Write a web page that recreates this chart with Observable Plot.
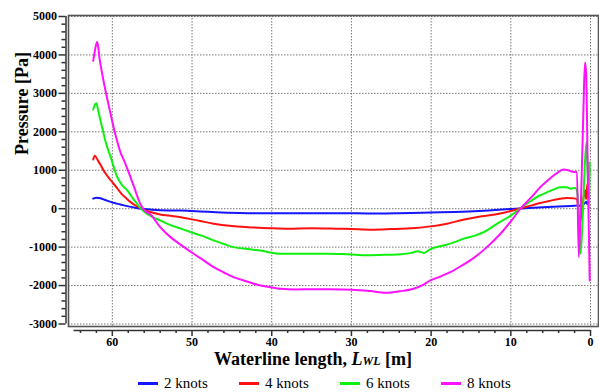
<!DOCTYPE html>
<html>
<head>
<meta charset="utf-8">
<script src="https://cdn.jsdelivr.net/npm/d3@7"></script>
<script src="https://cdn.jsdelivr.net/npm/@observablehq/plot@0.6"></script>
<style>
  body { margin: 0; background: #fff; }
  #wrap { position: relative; width: 599px; height: 392px; overflow: hidden; background: #fff; }
  #xt { position: absolute; left: 313px; top: 351px; transform: translateX(-50%); white-space: nowrap;
        font: bold 18px "Liberation Serif", serif; color: #000; line-height: 17px; }
  #legend { position: absolute; left: 138px; top: 375px; display: flex; font: 15px "Liberation Serif", serif; color: #000; }
  .item { display: flex; align-items: center; width: 101px; }
  .sw { width: 20px; height: 2.5px; margin-right: 6px; }
</style>
</head>
<body>
<div id="wrap">
  <div id="chart"></div>
  <div id="xt">Waterline length, <i>L</i><i style="font-size:12px">WL</i> [m]</div>
  <div id="legend"></div>
</div>
<script>
// ---- data (x = waterline length [m], p = pressure [Pa]) ----
const seriesNames = ["2 knots", "4 knots", "6 knots", "8 knots"];
const seriesColors = ["#1515ff", "#ff1010", "#10f010", "#ff10ff"];

const x2 = [62.4, 62.0, 61.5, 60.8, 60, 59, 58, 57, 56, 55, 53, 51.4, 49, 47, 44, 40, 35, 30, 26, 24, 20, 17, 14, 12, 10, 8.8, 6, 4, 2, 1.5, 1.2, 1.0, 0.7, 0.5, 0.4, 0.3];
const p2 = [260, 285, 270, 220, 160, 110, 60, 20, -10, -25, -45, -50, -70, -90, -110, -120, -120, -120, -125, -120, -100, -85, -60, -35, -10, 5, 40, 60, 75, 85, 60, 90, 150, 180, 120, 170];

const x4 = [62.4, 62.2, 61.8, 61.5, 61, 60.2, 59.5, 58.9, 58.2, 57.7, 57, 56.5, 56, 55, 54, 53, 51.4, 49, 47.3, 45, 43, 40, 38, 35, 32, 30, 27.6, 25, 22, 20, 18, 16, 14, 12, 10, 8.8, 7.5, 6.3, 5, 3.8, 3, 2.2, 1.7, 1.34, 1.0, 0.7, 0.55, 0.4, 0.25];
const p4 = [1280, 1380, 1250, 1150, 960, 740, 560, 400, 260, 170, 70, 20, -30, -100, -150, -180, -220, -320, -390, -450, -480, -510, -520, -510, -520, -530, -547, -530, -500, -460, -390, -290, -210, -150, -60, 10, 80, 150, 210, 260, 280, 270, 250, -390, 100, 480, 250, 650, 300];

const x6 = [62.4, 62.2, 62.0, 61.8, 61.5, 61.2, 60.9, 60.2, 59.4, 58.8, 58.1, 57.5, 56.9, 56.5, 55.8, 55, 54, 53, 51.4, 50, 48.9, 47.3, 46, 44.8, 43, 41.4, 39, 37, 35, 33, 31, 28.5, 26, 24.3, 22.5, 21.7, 20.9, 20.1, 18.5, 17.6, 15.9, 14.5, 13.4, 11.7, 10, 8.8, 7.5, 6.5, 5.4, 4.5, 3.8, 3, 2.5, 1.9, 1.65, 1.25, 1.0, 0.7, 0.5, 0.35, 0.2, 0.1];
const p6 = [2580, 2700, 2740, 2580, 2300, 2050, 1780, 1340, 830, 620, 470, 290, 130, 20, -110, -210, -305, -400, -520, -620, -695, -825, -920, -1000, -1050, -1090, -1170, -1170, -1170, -1170, -1180, -1210, -1200, -1190, -1150, -1110, -1150, -1050, -960, -910, -780, -700, -610, -390, -180, 10, 200, 330, 430, 510, 560, 560, 520, 540, 400, -1170, -300, 1200, 1735, 900, 0, 1200];

const x8 = [62.4, 62.2, 61.9, 61.6, 61.2, 60.6, 60.2, 59.8, 59.4, 59.0, 58.5, 58.1, 57.3, 56.5, 56.0, 55.2, 54, 52.7, 51.4, 49.8, 48.5, 47.3, 46, 44.8, 43, 41.4, 40, 38.9, 37, 35, 33, 31, 29, 27, 25.5, 24, 22.2, 21, 20.1, 18.8, 17.6, 16.3, 15.1, 13, 11.3, 10, 8.8, 7.5, 6.3, 5, 4, 3.4, 2.8, 2.1, 1.7, 1.47, 1.2, 0.9, 0.7, 0.55, 0.35, 0.1];
const p8 = [3846, 4100, 4340, 3900, 3430, 2820, 2450, 2080, 1760, 1480, 1240, 1030, 580, 130, -40, -150, -479, -740, -940, -1172, -1350, -1520, -1660, -1781, -1900, -1997, -2050, -2083, -2100, -2095, -2095, -2100, -2120, -2160, -2188, -2150, -2083, -1980, -1867, -1760, -1651, -1500, -1346, -1000, -651, -330, 0, 280, 560, 800, 960, 1020, 1000, 953, 950, -1260, 200, 2500, 3800, 3500, 1000, -1870];

// ticks
const xMajor = [60, 50, 40, 30, 20, 10, 0];
const xMinor = [64, 62, 58, 56, 54, 52, 48, 46, 44, 42, 38, 36, 34, 32, 28, 26, 24, 22, 18, 16, 14, 12, 8, 6, 4, 2];
const yMajor = [5000, 4000, 3000, 2000, 1000, 0, -1000, -2000, -3000];
const yMinor = [4800, 4600, 4400, 4200, 3800, 3600, 3400, 3200, 2800, 2600, 2400, 2200, 1800, 1600, 1400, 1200, 800, 600, 400, 200,
                -200, -400, -600, -800, -1200, -1400, -1600, -1800, -2200, -2400, -2600, -2800];

const seriesX = [x2, x4, x6, x8];
const seriesP = [p2, p4, p6, p8];
const rows = [];
seriesNames.forEach((s, i) => seriesX[i].forEach((x, j) => rows.push({s, x, p: seriesP[i][j]})));

const chart = Plot.plot({
  width: 599,
  height: 350,
  marginLeft: 68,
  marginRight: 1,
  marginTop: 15,
  marginBottom: 24,
  style: {fontFamily: "'Liberation Serif', serif", fontSize: "12px", fontWeight: "bold", background: "#fff", color: "#000"},
  x: {domain: [65.5, -1], axis: null},
  y: {domain: [-3065, 5026], axis: null},
  color: {domain: seriesNames, range: seriesColors},
  marks: [
    Plot.gridY(yMajor, {stroke: "#777", strokeOpacity: 1, strokeDasharray: "1.5,1.5", strokeWidth: 1}),
    Plot.gridX(xMajor, {stroke: "#777", strokeOpacity: 1, strokeDasharray: "1.5,1.5", strokeWidth: 1}),
    Plot.frame({stroke: "#555", strokeWidth: 1.6}),
    // y axis
    Plot.ruleX([65.5], {y1: -3000, y2: 5000, dx: -2.5, stroke: "#333", strokeWidth: 1.5}),
    Plot.axisY(yMajor, {anchor: "left", label: null, tickSize: 7, tickPadding: 2, dx: -2.5, tickFormat: d => String(d), stroke: "#333", strokeWidth: 1.5}),
    Plot.axisY(yMinor, {anchor: "left", label: null, tickSize: 4, text: null, dx: -2.5, stroke: "#333", strokeWidth: 1.5}),
    // x axis (offset below frame)
    Plot.ruleY([-3065], {x1: 64.8, x2: 0, dy: 4, stroke: "#333", strokeWidth: 1.5}),
    Plot.axisX(xMajor, {anchor: "bottom", label: null, tickSize: 6, tickPadding: 1, dy: 4, tickFormat: d => String(d), stroke: "#333", strokeWidth: 1.5}),
    Plot.axisX(xMinor, {anchor: "bottom", label: null, tickSize: 3, text: null, dy: 4, stroke: "#333", strokeWidth: 1.5}),
    // y title
    Plot.text(["Pressure [Pa]"], {y: [1400], frameAnchor: "left", dx: -46, rotate: -90, fontSize: 18, fontWeight: "bold", fill: "#000"}),
    // data
    Plot.line(rows, {x: "x", y: "p", z: "s", stroke: "s", strokeWidth: 2, curve: "monotone-x"})
  ]
});
document.getElementById("chart").appendChild(chart);

const leg = document.getElementById("legend");
seriesNames.forEach((s, i) => {
  const it = document.createElement("div");
  it.className = "item";
  it.innerHTML = `<span class="sw" style="background:${seriesColors[i]}"></span><span>${s}</span>`;
  leg.appendChild(it);
});
</script>
</body>
</html>
